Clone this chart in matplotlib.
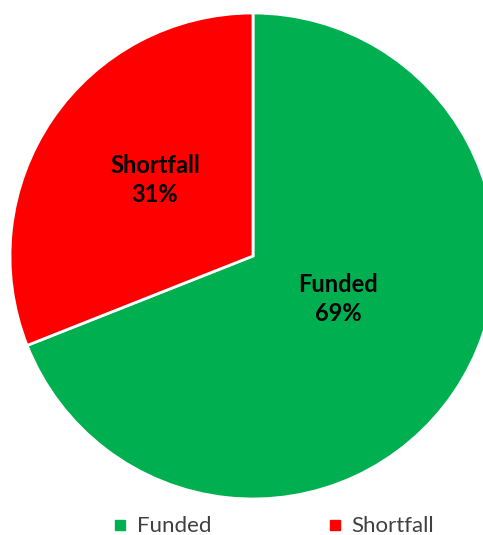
import matplotlib
matplotlib.use('Agg')
import matplotlib.pyplot as plt
from matplotlib.lines import Line2D

categories = ['Funded', 'Shortfall']
shares = [69, 31]
colors = ['#00B050', '#FF0000']

W, H = 483, 535
plt.rcParams['font.family'] = ['Lato', 'DejaVu Sans']

fig = plt.figure(figsize=(W / 100, H / 100), dpi=100)
ax = fig.add_axes([0, 0, 1, 1])

cx, cy, r = 253, H - 256, 243
ax.pie(shares, colors=colors, startangle=90, counterclock=False,
       center=(cx, cy), radius=r, frame=True,
       wedgeprops=dict(edgecolor='white', linewidth=2))
ax.set_xlim(0, W)
ax.set_ylim(0, H)
ax.set_aspect('equal')
ax.axis('off')

# slice labels sit inside each wedge
label_pos = {'Funded': (338, H - 299), 'Shortfall': (155, H - 180)}
for name, val in zip(categories, shares):
    x, y = label_pos[name]
    ax.text(x, y, f'{name}\n{val}%', ha='center', va='center',
            fontsize=17, fontweight='bold', linespacing=1.3, color='black')

handles = [Line2D([], [], marker='s', linestyle='none', markersize=7,
                  markerfacecolor=c, markeredgecolor=c) for c in colors]
fig.legend(handles, categories, loc='center', bbox_to_anchor=(0.565, 0.016),
           ncol=2, frameon=False, fontsize=16, handletextpad=0.35,
           columnspacing=5.15, handlelength=0.8, labelcolor='#404040')

fig.savefig('out.png', dpi=100)
